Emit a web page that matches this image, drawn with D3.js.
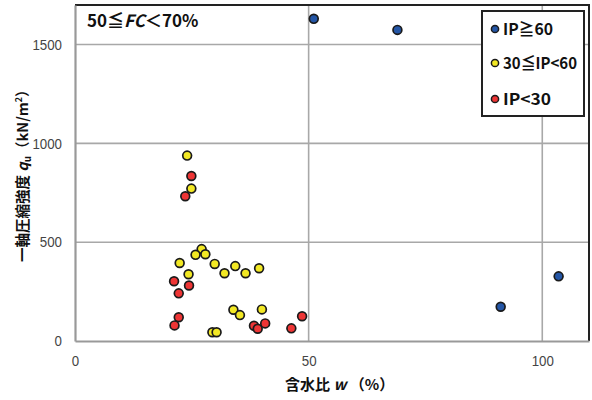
<!DOCTYPE html>
<html>
<head>
<meta charset="utf-8">
<script src="https://cdn.jsdelivr.net/npm/d3@7"></script>
<style>
  html, body { margin: 0; padding: 0; background: #fff; }
  svg { display: block; }
  .tick text { font-family: "Liberation Sans", Arial, sans-serif; font-size: 15px; fill: #444; }
  .jp { font-family: "Noto Sans CJK JP", sans-serif; font-weight: bold; fill: #111; }
</style>
</head>
<body>
<svg id="chart" width="592" height="400"></svg>
<script>
// Water content w (%) and unconfined compression strength qu (kN/m²), grouped by plasticity index
const blueW   = [51.1, 69.0, 91.1, 103.5];
const blueQ   = [1630, 1574, 173, 327];

const yellowW = [27.1, 25.8, 27.9, 22.4, 29.9, 34.3, 39.4, 24.3, 32.0, 36.5, 33.9, 35.3, 40.0, 29.4, 30.3, 24.0, 24.9];
const yellowQ = [465, 436, 439, 395, 390, 379, 368, 338, 343, 343, 158, 131, 160, 44, 44, 938, 771];

const redW    = [21.2, 24.4, 22.2, 22.2, 21.3, 38.3, 39.1, 40.7, 46.3, 48.6, 24.9, 23.6];
const redQ    = [302, 281, 241, 120, 79, 77, 62, 89, 64, 125, 835, 732];

const xTicks = [0, 50, 100];
const yTicks = [0, 500, 1000, 1500];

const seriesNames  = ["IP≧60", "30≦IP<60", "IP<30"];
const seriesColors = ["#2456a6", "#f2e824", "#ee3535"];

const series = [
  { name: seriesNames[0], color: seriesColors[0], w: blueW,   q: blueQ },
  { name: seriesNames[1], color: seriesColors[1], w: yellowW, q: yellowQ },
  { name: seriesNames[2], color: seriesColors[2], w: redW,    q: redQ }
];

const svg = d3.select("#chart");
const x = d3.scaleLinear().domain([0, 110]).range([75, 589]);
const y = d3.scaleLinear().domain([0, 1700]).range([341, 5]);

// gridlines
svg.append("g").selectAll("line").data(xTicks.filter(d => d > 0)).join("line")
  .attr("x1", d => x(d)).attr("x2", d => x(d))
  .attr("y1", y(0)).attr("y2", y(1700))
  .attr("stroke", "#a8a8a8").attr("stroke-width", 1.6);
svg.append("g").selectAll("line").data(yTicks.filter(d => d > 0)).join("line")
  .attr("x1", x(0)).attr("x2", x(110))
  .attr("y1", d => y(d)).attr("y2", d => y(d))
  .attr("stroke", "#a8a8a8").attr("stroke-width", 1.6);

// top and right frame
svg.append("path")
  .attr("d", `M${x(0)},${y(1700)}H${x(110)}V${y(0)}`)
  .attr("fill", "none").attr("stroke", "#222").attr("stroke-width", 2);

// axes (narrow numerals)
const fmt = d3.format("d");
const xAxis = svg.append("g").attr("transform", `translate(0,${y(0)})`)
  .call(d3.axisBottom(x).tickValues(xTicks).tickFormat(fmt).tickSize(0).tickPadding(14));
const yAxis = svg.append("g").attr("transform", `translate(${x(0)},0)`)
  .call(d3.axisLeft(y).tickValues(yTicks).tickFormat(fmt).tickSize(0).tickPadding(13));
[xAxis, yAxis].forEach(g => {
  g.select(".domain").attr("stroke", "#999").attr("stroke-width", 2.2);
  g.selectAll(".tick text")
    .attr("textLength", d => fmt(d).length * 7.4)
    .attr("lengthAdjust", "spacingAndGlyphs");
});

// points
series.forEach(s => {
  svg.append("g").selectAll("circle").data(s.w.map((w, i) => [w, s.q[i]])).join("circle")
    .attr("cx", d => x(d[0])).attr("cy", d => y(d[1]))
    .attr("r", 4.4)
    .attr("fill", s.color).attr("stroke", "#1a1a1a").attr("stroke-width", 1.7);
});

// panel label
const title = svg.append("text").attr("class", "jp")
  .attr("x", 87).attr("y", 27).attr("font-size", 17);
title.append("tspan").text("50≦");
title.append("tspan").attr("font-style", "italic").text("FC");
title.append("tspan").text("＜70%");

// legend
const lg = svg.append("g");
lg.append("rect").attr("x", 482).attr("y", 11).attr("width", 102).attr("height", 105)
  .attr("fill", "#fff").attr("stroke", "#222").attr("stroke-width", 2);
const rowY = [29, 63, 99];
const rowW = [50, 74, 48];
series.forEach((s, i) => {
  lg.append("circle").attr("cx", 495).attr("cy", rowY[i]).attr("r", 3.6)
    .attr("fill", s.color).attr("stroke", "#1a1a1a").attr("stroke-width", 1.5);
  lg.append("text").attr("class", "jp").attr("x", 503).attr("y", rowY[i] + 6)
    .attr("font-size", 16).attr("textLength", rowW[i]).attr("lengthAdjust", "spacingAndGlyphs")
    .text(s.name);
});

// axis titles
const xt = svg.append("text").attr("class", "jp")
  .attr("x", 285).attr("y", 390).attr("font-size", 15);
xt.append("tspan").text("含水比 ");
xt.append("tspan").attr("font-style", "italic").text("w");
xt.append("tspan").text(" （%）");

const yt = svg.append("text").attr("class", "jp")
  .attr("transform", "translate(28,262) rotate(-90)")
  .attr("font-size", 14.5);
yt.append("tspan").text("一軸圧縮強度 ");
yt.append("tspan").attr("font-style", "italic").text("q");
yt.append("tspan").attr("font-size", 10).attr("dy", 3).text("u");
yt.append("tspan").attr("dy", -3).text("（kN/m");
yt.append("tspan").attr("font-size", 9).attr("dy", -6).text("2");
yt.append("tspan").attr("dy", 6).text("）");
</script>
</body>
</html>
